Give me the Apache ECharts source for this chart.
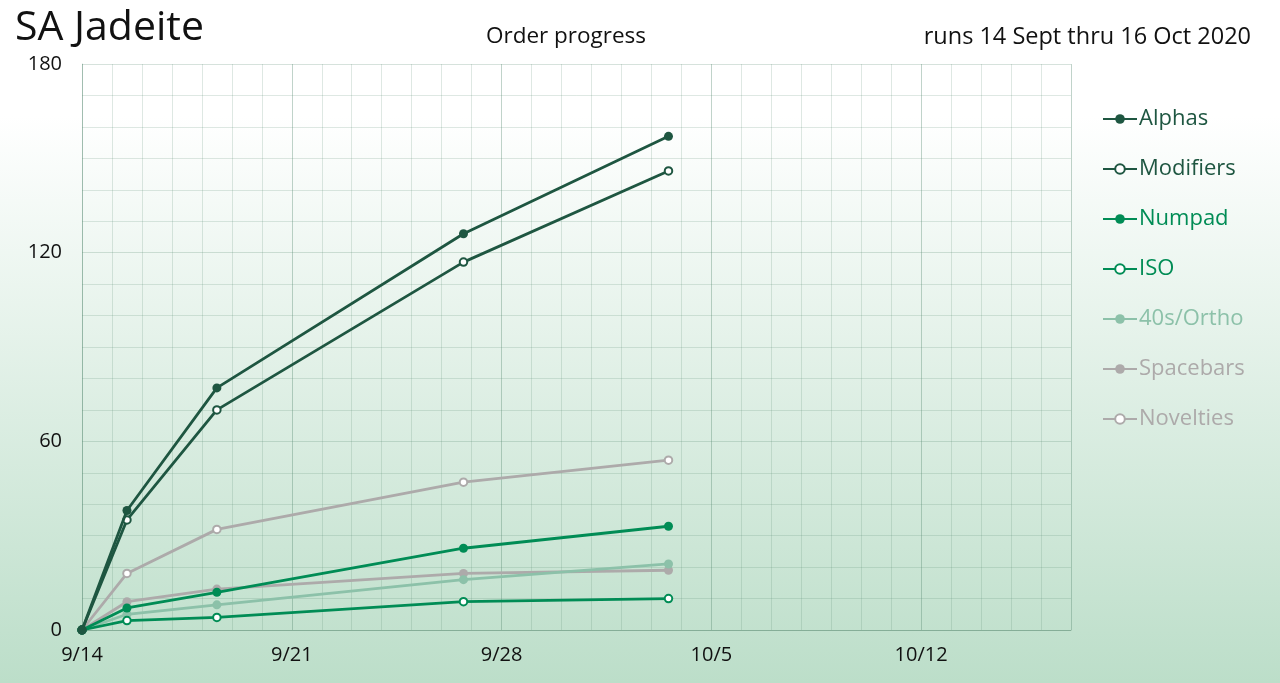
<!DOCTYPE html>
<html><head><meta charset="utf-8">
<script src="https://cdn.jsdelivr.net/npm/echarts@6/dist/echarts.min.js"></script>
<style>html,body{margin:0;padding:0;}#c{width:1280px;height:683px;}</style>
</head><body><div id="c"></div>
<script>
const startDate = '2020-09-14T00:00:00Z';
const sampleDates = ['2020-09-14T00:00:00Z','2020-09-15T12:00:00Z','2020-09-18T12:00:00Z','2020-09-26T17:30:00Z','2020-10-03T13:40:00Z'];
const xTickLabels = ['9/14','9/21','9/28','10/5','10/12'];
const seriesNames = ['Alphas','Modifiers','Numpad','ISO','40s/Ortho','Spacebars','Novelties'];
const alphas    = [0, 38, 77, 126, 157];
const modifiers = [0, 35, 70, 117, 146];
const numpad    = [0, 7, 12, 26, 33];
const iso       = [0, 3, 4, 9, 10];
const ortho40s  = [0, 5, 8, 16, 21];
const spacebars = [0, 9, 13, 18, 19];
const novelties = [0, 18, 32, 47, 54];

const DAY = 86400000;
const t0 = Date.parse(startDate);
const xDays = sampleDates.map(d => (Date.parse(d) - t0) / DAY);

const styles = [
  {color:'#1e5641', sym:'circle'},
  {color:'#1e5641', sym:'emptyCircle'},
  {color:'#008c55', sym:'circle'},
  {color:'#008c55', sym:'emptyCircle'},
  {color:'#8cc1a9', sym:'circle'},
  {color:'#adaaaa', sym:'circle'},
  {color:'#adaaaa', sym:'emptyCircle'}
];
const values = [alphas, modifiers, numpad, iso, ortho40s, spacebars, novelties];

const series = seriesNames.map((name, i) => {
  const empty = styles[i].sym === 'emptyCircle';
  return {
    name, type:'line',
    data: values[i].map((v, j) => [xDays[j], v]),
    symbol: styles[i].sym,
    symbolSize: empty ? 7.5 : 9,
    showSymbol: true,
    color: styles[i].color,
    lineStyle: {width: 2.8, color: styles[i].color},
    itemStyle: empty
      ? {color: styles[i].color, borderColor: styles[i].color, borderWidth: 2}
      : {color: styles[i].color, borderWidth: 0},
    emphasis: {disabled: true},
    z: 10 - i
  };
});

const fontFam = '"Open Sans", "Noto Sans", sans-serif';
const chart = echarts.init(document.getElementById('c'), null, {renderer:'canvas'});
chart.setOption({
  animation: false,
  backgroundColor: {type:'linear', x:0, y:0, x2:0, y2:1, colorStops:[
    {offset:0, color:'#ffffff'}, {offset:0.17, color:'#ffffff'}, {offset:1, color:'#bcdec9'}]},
  textStyle: {fontFamily: fontFam},
  title: [
    {text:'SA Jadeite', left:10, top:3, textStyle:{fontSize:41, fontWeight:'normal', color:'#111', fontFamily: fontFam}},
    {text:'Order progress', left:561, textAlign:'center', top:20, textStyle:{fontSize:22.5, fontWeight:'normal', color:'#111', fontFamily: fontFam}},
    {text:'runs 14 Sept thru 16 Oct 2020', right:24, top:20, textStyle:{fontSize:23.5, fontWeight:'normal', color:'#111', fontFamily: fontFam}}
  ],
  legend: {
    orient:'vertical', left:1097, top:103, itemGap:28, itemWidth:34, itemHeight:12,
    data: seriesNames.map((n, i) => ({name:n, textStyle:{color: styles[i].color}})),
    textStyle:{fontSize:22, fontFamily: fontFam, padding:[0,0,0,-3]},
    selectedMode:false
  },
  grid: {left:82, right:209, top:64, bottom:53},
  xAxis: {
    type:'value', min:0, max:33, interval:7,
    axisLine:{show:true, lineStyle:{color:'rgba(90,140,115,0.45)'}},
    axisTick:{show:false},
    minorTick:{show:false, splitNumber:7},
    axisLabel:{fontSize:20, color:'#111', margin:15, fontFamily: fontFam,
      formatter: v => xTickLabels[Math.round(v/7)] || ''},
    splitLine:{show:true, lineStyle:{color:'rgba(90,140,115,0.38)', width:1}},
    minorSplitLine:{show:true, lineStyle:{color:'rgba(90,140,115,0.2)', width:1}}
  },
  yAxis: {
    type:'value', min:0, max:180, interval:60,
    axisLine:{show:true, lineStyle:{color:'rgba(90,140,115,0.3)'}},
    axisTick:{show:false},
    minorTick:{show:false, splitNumber:6},
    axisLabel:{fontSize:20, color:'#111', margin:20, fontFamily: fontFam},
    splitLine:{show:true, lineStyle:{color:'rgba(90,140,115,0.25)', width:1}},
    minorSplitLine:{show:true, lineStyle:{color:'rgba(90,140,115,0.2)', width:1}}
  },
  series
});
</script></body></html>
